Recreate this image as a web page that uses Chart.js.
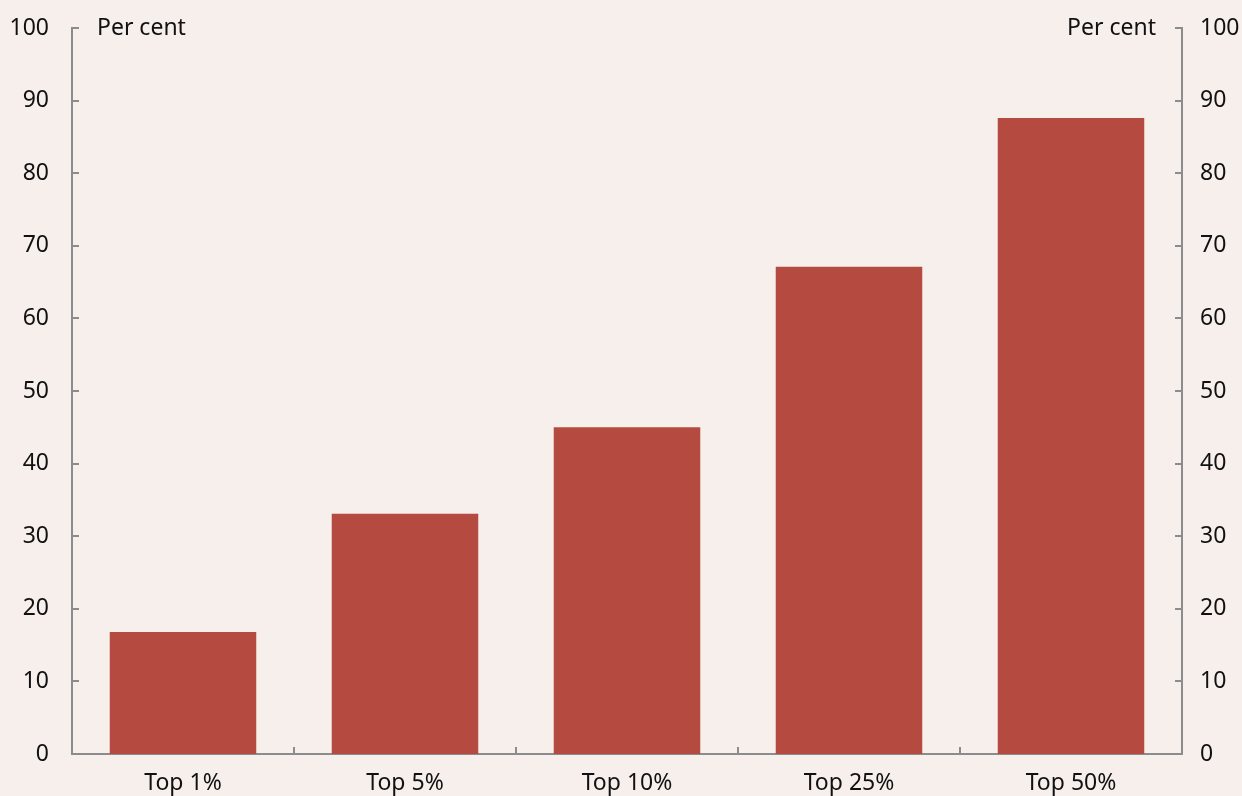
<!DOCTYPE html>
<html lang="en">
<head>
<meta charset="UTF-8">
<title>Share by top groups</title>
<script src="https://cdn.jsdelivr.net/npm/chart.js@4.4.1/dist/chart.umd.min.js"></script>
<style>
    html, body {
        margin: 0;
        padding: 0;
        background: #f7efec;
    }
    .wrap {
        position: relative;
        width: 1242px;
        height: 796px;
    }
</style>
</head>
<body>
<div class="wrap">
    <canvas id="chart"></canvas>
</div>
<script>
// data
const categories = ['Top 1%', 'Top 5%', 'Top 10%', 'Top 25%', 'Top 50%'];
const shares = [16.8, 33.1, 45.0, 67.1, 87.6];
const yTicks = [0, 10, 20, 30, 40, 50, 60, 70, 80, 90, 100];
const unitLabel = 'Per cent';

const AXIS = '#8c8c8c';
const BAR = '#b44a40';
const TEXT = '#111111';
const FONT = "'Noto Sans', 'Open Sans', sans-serif";
const FONT_SIZE = 23;

// short tick marks pointing into the plot, plus the unit labels
const innerTicks = {
    id: 'innerTicks',
    afterDatasetsDraw(chart) {
        const ctx = chart.ctx;
        const area = chart.chartArea;
        const yl = chart.scales.y;
        const x = chart.scales.x;
        ctx.save();
        ctx.strokeStyle = AXIS;
        ctx.lineWidth = 2;
        ctx.beginPath();
        yTicks.forEach(v => {
            const py = Math.round(yl.getPixelForValue(v));
            ctx.moveTo(area.left, py);
            ctx.lineTo(area.left + 7, py);
            ctx.moveTo(area.right, py);
            ctx.lineTo(area.right - 7, py);
        });
        for (let i = 1; i < categories.length; i++) {
            const px = Math.round((x.getPixelForValue(i - 1) + x.getPixelForValue(i)) / 2);
            ctx.moveTo(px, area.bottom);
            ctx.lineTo(px, area.bottom - 7);
        }
        ctx.stroke();

        ctx.fillStyle = TEXT;
        ctx.font = FONT_SIZE + 'px ' + FONT;
        ctx.textBaseline = 'middle';
        ctx.textAlign = 'left';
        ctx.fillText(unitLabel, area.left + 25, area.top);
        ctx.textAlign = 'right';
        ctx.fillText(unitLabel, area.right - 26, area.top);
        ctx.restore();
    }
};

// keep tick-label overflow from shrinking the plot area
function noOverflow(s) {
    s.paddingTop = 0;
    s.paddingBottom = 0;
    s.paddingLeft = 0;
    s.paddingRight = 0;
}

Chart.defaults.font.family = FONT;
Chart.defaults.font.size = FONT_SIZE;
Chart.defaults.color = TEXT;

new Chart(document.getElementById('chart'), {
    type: 'bar',
    data: {
        labels: categories,
        datasets: [{
            data: shares,
            backgroundColor: BAR,
            borderWidth: 0,
            barPercentage: 0.66,
            categoryPercentage: 1.0
        }]
    },
    options: {
        responsive: true,
        maintainAspectRatio: false,
        animation: false,
        devicePixelRatio: 1,
        layout: { padding: { top: 28, right: 0, left: 0, bottom: 0 } },
        plugins: {
            legend: { display: false },
            tooltip: { enabled: false }
        },
        scales: {
            x: {
                grid: { display: false, drawTicks: false },
                border: { color: AXIS, width: 2 },
                ticks: { padding: 16, maxRotation: 0 },
                afterFit(s) { noOverflow(s); s.height = 42; }
            },
            y: {
                position: 'left',
                min: 0,
                max: 100,
                afterBuildTicks(s) { s.ticks = yTicks.map(v => ({ value: v })); },
                grid: { display: false, drawTicks: false },
                border: { color: AXIS, width: 2 },
                ticks: { padding: 23 },
                afterFit(s) { noOverflow(s); s.width = 72; }
            },
            y2: {
                position: 'right',
                min: 0,
                max: 100,
                afterBuildTicks(s) { s.ticks = yTicks.map(v => ({ value: v })); },
                grid: { display: false, drawTicks: false },
                border: { color: AXIS, width: 2 },
                ticks: { padding: 18 },
                afterFit(s) { noOverflow(s); s.width = 60; }
            }
        }
    },
    plugins: [innerTicks]
});
</script>
</body>
</html>
